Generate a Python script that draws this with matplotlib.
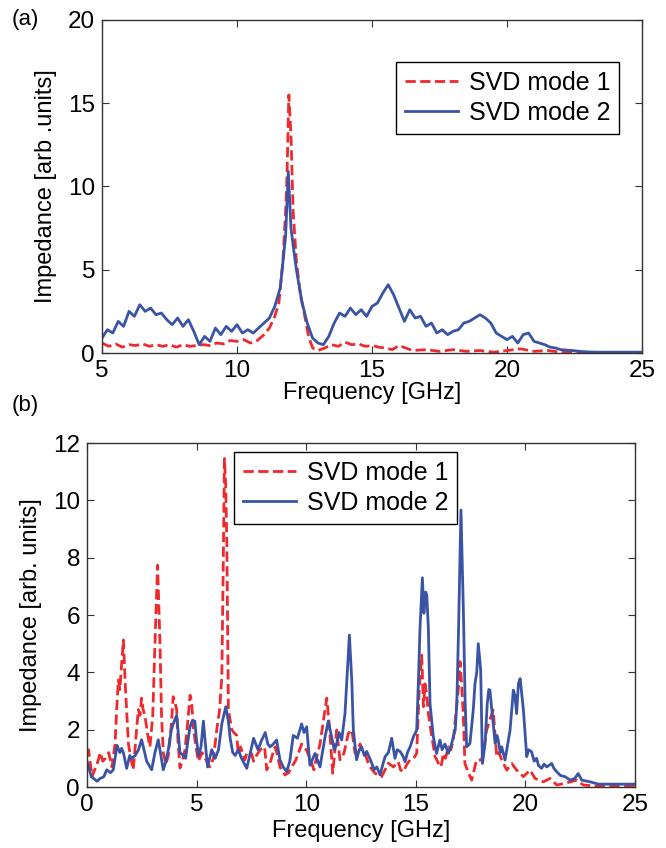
import matplotlib
matplotlib.use("Agg")
import matplotlib.pyplot as plt

plt.rcParams['font.family'] = ['Liberation Sans', 'DejaVu Sans']
plt.rcParams['font.size'] = 17

RED = '#ee2a2f'
BLUE = '#3a53a4'

# ---- panel (a) data ----
a_freq_1 = [5.0, 5.25, 5.5, 5.75, 6.0, 6.25, 6.5, 6.75, 7.0, 7.25, 7.5, 7.75, 8.0, 8.25,
            8.5, 8.75, 9.0, 9.25, 9.5, 9.75, 10.0, 10.25, 10.5, 10.75, 11.0, 11.2, 11.4,
            11.55, 11.7, 11.8, 11.85, 11.92, 12.0, 12.08, 12.2, 12.35, 12.5, 12.65, 12.8,
            13.0, 13.25, 13.5, 13.75, 14.0, 14.25, 14.5, 14.75, 15.0, 15.25, 15.5, 15.75,
            16.0, 16.25, 16.5, 17.0, 17.5, 18.0, 18.5, 19.0, 19.5, 20.0, 20.5, 21.0, 21.5,
            22.0, 23.0, 24.0, 25.0]
a_mode_1 = [0.6, 0.4, 0.55, 0.35, 0.5, 0.45, 0.55, 0.4, 0.5, 0.4, 0.5, 0.35, 0.5, 0.4,
            0.45, 0.5, 0.45, 0.6, 0.55, 0.75, 0.7, 0.8, 0.6, 0.75, 1.1, 1.5, 2.2,
            3.0, 5.5, 8.5, 10.5, 15.5, 13.0, 8.5, 5.5, 3.5, 2.3, 1.0, 0.3,
            0.15, 0.3, 0.5, 0.4, 0.65, 0.5, 0.55, 0.4, 0.45, 0.35, 0.3, 0.2,
            0.45, 0.3, 0.15, 0.2, 0.1, 0.2, 0.1, 0.15, 0.05, 0.15, 0.25, 0.1, 0.15,
            0.05, 0.05, 0.02, 0.02]

a_freq_2 = [5.0, 5.2, 5.4, 5.6, 5.8, 6.0, 6.2, 6.4, 6.6, 6.8, 7.0, 7.2, 7.4, 7.6, 7.8,
            8.0, 8.2, 8.4, 8.6, 8.8, 9.0, 9.2, 9.4, 9.6, 9.8, 10.0, 10.2, 10.4, 10.6,
            10.8, 11.0, 11.2, 11.4, 11.6, 11.8, 11.9, 12.0, 12.1, 12.2, 12.4, 12.6, 12.8,
            13.0, 13.2, 13.4, 13.6, 13.8, 14.0, 14.2, 14.4, 14.6, 14.8, 15.0, 15.2, 15.4,
            15.6, 15.8, 16.0, 16.2, 16.4, 16.6, 16.8, 17.0, 17.2, 17.4, 17.6, 17.8, 18.0,
            18.2, 18.4, 18.6, 18.8, 19.0, 19.2, 19.4, 19.6, 19.8, 20.0, 20.2, 20.4, 20.6,
            20.8, 21.0, 21.2, 21.4, 21.6, 21.8, 22.0, 22.4, 22.8, 23.2, 24.0, 25.0]
a_mode_2 = [0.9, 1.4, 1.2, 1.9, 1.6, 2.5, 2.2, 2.9, 2.5, 2.7, 2.3, 2.4, 2.0, 1.7, 2.1,
            1.6, 2.0, 1.3, 0.5, 1.0, 0.7, 1.5, 1.1, 1.6, 1.3, 1.7, 1.2, 1.4, 1.2,
            1.5, 1.8, 2.1, 2.8, 3.9, 7.0, 10.9, 7.5, 6.2, 5.0, 3.1, 1.8, 0.9,
            0.6, 0.5, 1.0, 1.8, 2.4, 2.2, 2.7, 2.3, 2.6, 2.2, 2.8, 3.0, 3.6,
            4.1, 3.5, 2.7, 1.9, 2.6, 2.1, 2.2, 1.6, 1.8, 1.2, 1.4, 1.1, 1.3,
            1.4, 1.8, 1.9, 2.1, 2.3, 2.1, 1.8, 1.2, 1.0, 0.8, 1.0, 0.6, 1.1,
            1.2, 0.7, 0.6, 0.5, 0.35, 0.3, 0.2, 0.15, 0.08, 0.05, 0.05, 0.05]

# ---- panel (b) data ----
b_freq_1 = [0.0, 0.07, 0.23, 0.35, 0.46, 0.61, 0.72, 0.84, 0.99, 1.14, 1.28, 1.36, 1.43,
            1.5, 1.58, 1.66, 1.75, 1.89, 2.0, 2.11, 2.25, 2.34, 2.42, 2.49, 2.56, 2.64,
            2.75, 2.87, 3.0, 3.1, 3.22, 3.33, 3.4, 3.48, 3.6, 3.71, 3.85, 3.93, 4.0, 4.09,
            4.15, 4.24, 4.35, 4.47, 4.6, 4.7, 4.77, 4.85, 4.95, 5.08, 5.25, 5.46, 5.6,
            5.77, 5.92, 6.05, 6.15, 6.22, 6.27, 6.33, 6.38, 6.45, 6.6, 6.7, 6.83, 6.9,
            7.0, 7.14, 7.2, 7.3, 7.44, 7.5, 7.6, 7.7, 7.9, 8.1, 8.2, 8.35, 8.45, 8.58,
            8.66, 8.8, 9.03, 9.2, 9.34, 9.5, 9.64, 9.79, 10.02, 10.25, 10.35, 10.48,
            10.63, 10.78, 10.94, 11.06, 11.21, 11.3, 11.39, 11.54, 11.72, 11.92, 12.08,
            12.23, 12.35, 12.46, 12.55, 12.68, 12.8, 12.91, 13.14, 13.3, 13.44, 13.6,
            13.75, 13.98, 14.2, 14.3, 14.43, 14.6, 14.74, 14.9, 15.04, 15.16, 15.27,
            15.35, 15.42, 15.5, 15.57, 15.73, 15.88, 16.03, 16.15, 16.26, 16.35, 16.49,
            16.6, 16.71, 16.87, 16.95, 17.02, 17.1, 17.17, 17.24, 17.4, 17.55, 17.77,
            18.0, 18.1, 18.23, 18.4, 18.53, 18.62, 18.69, 18.8, 18.92, 19.15, 19.38,
            19.6, 19.91, 20.21, 20.44, 20.82, 21.13, 21.43, 21.81, 22.34, 22.64, 23.26,
            24.0, 25.0]
b_mode_1 = [1.2, 1.3, 0.36, 0.6, 0.8, 1.2, 0.9, 1.0, 1.2, 0.7, 1.5, 2.8, 3.73,
            3.4, 4.3, 5.13, 3.5, 1.5, 1.0, 0.6, 1.9, 2.7, 2.5, 3.1, 2.7, 2.5,
            1.9, 1.4, 2.5, 5.0, 7.74, 5.0, 2.5, 1.2, 0.8, 1.1, 2.2, 3.15, 3.0, 2.7,
            1.6, 0.66, 0.9, 1.3, 2.3, 3.2, 3.0, 2.1, 1.5, 0.9, 1.2, 0.9, 0.7,
            1.0, 2.0, 2.7, 3.85, 8.0, 11.46, 10.5, 8.5, 2.7, 2.0, 1.9, 1.8, 1.17,
            1.4, 1.1, 0.95, 1.2, 1.2, 1.17, 0.9, 1.06, 1.3, 1.4, 0.6, 0.83, 1.1, 1.4,
            1.2, 0.7, 0.42, 0.5, 0.7, 0.9, 1.17, 1.5, 1.28, 0.83, 0.6, 1.06,
            1.5, 2.3, 3.1, 2.1, 0.48, 1.2, 1.99, 0.95, 1.17, 1.87, 1.99,
            1.17, 1.3, 1.5, 1.2, 1.17, 0.9, 0.7, 0.48, 0.4, 0.36, 0.6,
            0.83, 0.7, 0.88, 0.6, 0.53, 0.8, 0.95, 1.0, 1.17, 3.5, 4.6,
            2.8, 3.6, 3.2, 2.57, 1.75, 1.06, 0.83, 0.7, 1.17, 1.0, 1.4,
            1.3, 1.64, 2.9, 3.5, 4.37, 3.5, 2.45, 0.82, 0.5, 0.24, 0.94,
            0.94, 1.3, 1.98, 2.4, 2.68, 1.8, 1.06, 1.2, 0.94, 0.59, 0.82,
            0.59, 0.36, 0.59, 0.3, 0.18, 0.3, 0.07, 0.13, 0.24, 0.07, 0.03,
            0.02, 0.02]

b_freq_2 = [0.0, 0.07, 0.2, 0.46, 0.6, 0.76, 0.9, 1.07, 1.2, 1.37, 1.5, 1.58, 1.66,
            1.81, 1.95, 2.04, 2.2, 2.35, 2.49, 2.6, 2.72, 2.95, 3.1, 3.25, 3.35, 3.48,
            3.6, 3.71, 3.85, 3.93, 4.09, 4.15, 4.24, 4.4, 4.5, 4.6, 4.7, 4.8, 4.92, 5.0,
            5.1, 5.2, 5.31, 5.4, 5.5, 5.69, 5.85, 6.0, 6.15, 6.33, 6.45, 6.53, 6.65,
            6.76, 6.9, 7.05, 7.29, 7.45, 7.6, 7.7, 7.8, 7.95, 8.13, 8.25, 8.35, 8.5,
            8.65, 8.8, 8.95, 9.11, 9.25, 9.41, 9.6, 9.79, 9.9, 10.02, 10.17, 10.4,
            10.63, 10.86, 11.01, 11.16, 11.28, 11.39, 11.5, 11.62, 11.77, 11.88, 11.97,
            12.08, 12.15, 12.3, 12.42, 12.53, 12.65, 12.76, 12.9, 12.99, 13.1, 13.22,
            13.37, 13.5, 13.6, 13.75, 13.9, 14.05, 14.15, 14.28, 14.4, 14.51, 14.62,
            14.74, 14.89, 15.04, 15.12, 15.19, 15.3, 15.37, 15.45, 15.5, 15.57, 15.65,
            15.8, 15.95, 16.1, 16.2, 16.33, 16.48, 16.6, 16.71, 16.8, 16.87, 16.95,
            17.06, 17.17, 17.25, 17.32, 17.47, 17.62, 17.7, 17.78, 17.85, 17.96, 18.04,
            18.16, 18.26, 18.33, 18.38, 18.5, 18.62, 18.7, 18.76, 18.85, 18.92, 19.07,
            19.3, 19.45, 19.52, 19.6, 19.68, 19.76, 19.91, 20.06, 20.15, 20.28, 20.4,
            20.51, 20.6, 20.74, 20.85, 20.97, 21.2, 21.3, 21.43, 21.6, 21.81, 22.04,
            22.25, 22.41, 22.57, 22.95, 23.33, 24.0, 25.0]
b_mode_2 = [0.9, 0.7, 0.36, 0.2, 0.3, 0.35, 0.6, 0.5, 0.6, 1.45, 1.2, 1.35, 1.2,
            0.65, 1.1, 1.0, 1.1, 1.3, 1.65, 1.3, 0.9, 0.6, 1.2, 1.65, 1.2, 0.6,
            0.9, 1.3, 2.0, 2.2, 2.5, 2.0, 1.2, 1.1, 1.0, 1.6, 2.1, 2.3, 2.3, 1.6,
            1.1, 1.4, 2.3, 1.5, 0.7, 1.3, 1.0, 1.3, 2.2, 2.8, 2.3, 1.7, 1.2,
            1.1, 1.3, 1.0, 0.65, 1.2, 1.7, 1.5, 1.3, 1.6, 1.9, 1.5, 1.4, 1.5,
            1.64, 0.95, 0.7, 0.53, 0.9, 1.8, 1.7, 2.2, 1.9, 2.1, 0.76, 1.17,
            0.7, 1.75, 2.3, 1.75, 1.3, 1.5, 1.9, 1.64, 2.57, 4.08, 5.3,
            3.7, 1.99, 0.95, 1.3, 1.4, 1.1, 1.24, 1.0, 0.83, 0.6, 0.7,
            0.42, 0.8, 1.06, 1.2, 1.7, 1.0, 1.3, 1.24, 1.1, 0.88, 1.2,
            1.4, 1.75, 1.98, 3.7, 5.5, 7.3, 6.06, 6.8, 6.7, 5.6, 2.9,
            1.75, 1.17, 1.64, 1.3, 1.5, 1.17, 1.4, 1.75, 2.0, 2.9, 5.5,
            9.66, 6.17, 3.0, 1.4, 1.52, 2.68, 3.6, 4.0, 5.0, 4.08, 0.82,
            1.52, 2.92, 3.4, 3.38, 2.45, 1.52, 1.8, 1.64, 1.2, 1.4, 0.94,
            1.98, 3.38, 3.2, 2.56, 3.6, 3.78, 2.68, 1.06, 1.3, 1.23, 0.9,
            1.0, 0.75, 0.65, 0.8, 0.7, 0.82, 0.65, 0.53, 0.4, 0.36, 0.24,
            0.3, 0.47, 0.24, 0.18, 0.1, 0.1, 0.1]

labels = ['SVD mode 1', 'SVD mode 2']

W, H = 666, 848
fig = plt.figure(figsize=(W / 100, H / 100), dpi=100)


def style_axes(ax):
    ax.tick_params(direction='in', top=True, right=True, length=5, width=0.8,
                   color='#333333', labelsize=17.5, pad=5)
    for sp in ax.spines.values():
        sp.set_linewidth(1.0)
        sp.set_color('#333333')


def add_legend(ax, anchor):
    leg = ax.legend(loc='upper right', bbox_to_anchor=anchor,
                    bbox_transform=fig.transFigure, borderaxespad=0, fancybox=False,
                    edgecolor='black', framealpha=1, fontsize=18, handlelength=2.1,
                    handletextpad=0.45, borderpad=0.35, labelspacing=0.25)
    leg.get_frame().set_linewidth(1.0)
    return leg


# Panel (a)
ax1 = fig.add_axes([102 / W, 1 - 353 / H, 540 / W, 333 / H])
ax1.plot(a_freq_1, a_mode_1, '--', color=RED, lw=2.0, label=labels[0])
ax1.plot(a_freq_2, a_mode_2, '-', color=BLUE, lw=2.0, label=labels[1])
ax1.set_xlim(5, 25)
ax1.set_ylim(0, 20)
ax1.set_xticks([5, 10, 15, 20, 25])
ax1.set_yticks([0, 5, 10, 15, 20])
ax1.set_xlabel('Frequency [GHz]', labelpad=0)
ax1.set_ylabel('Impedance [arb .units]', labelpad=8)
style_axes(ax1)
add_legend(ax1, (619 / W, 1 - 62 / H))

# Panel (b)
ax2 = fig.add_axes([87 / W, 1 - 787 / H, 548 / W, 344 / H])
ax2.plot(b_freq_1, b_mode_1, '--', color=RED, lw=2.0, label=labels[0])
ax2.plot(b_freq_2, b_mode_2, '-', color=BLUE, lw=2.0, label=labels[1])
ax2.set_xlim(0, 25)
ax2.set_ylim(0, 12)
ax2.set_xticks([0, 5, 10, 15, 20, 25])
ax2.set_yticks([0, 2, 4, 6, 8, 10, 12])
ax2.set_xlabel('Frequency [GHz]', labelpad=3)
ax2.set_ylabel('Impedance [arb. units]', labelpad=8)
style_axes(ax2)
add_legend(ax2, (457 / W, 1 - 452 / H))

fig.text(12 / W, 1 - 20 / H, '(a)', fontsize=16, va='center', ha='left')
fig.text(12 / W, 1 - 405 / H, '(b)', fontsize=16, va='center', ha='left')

fig.savefig('out.png', dpi=100)
